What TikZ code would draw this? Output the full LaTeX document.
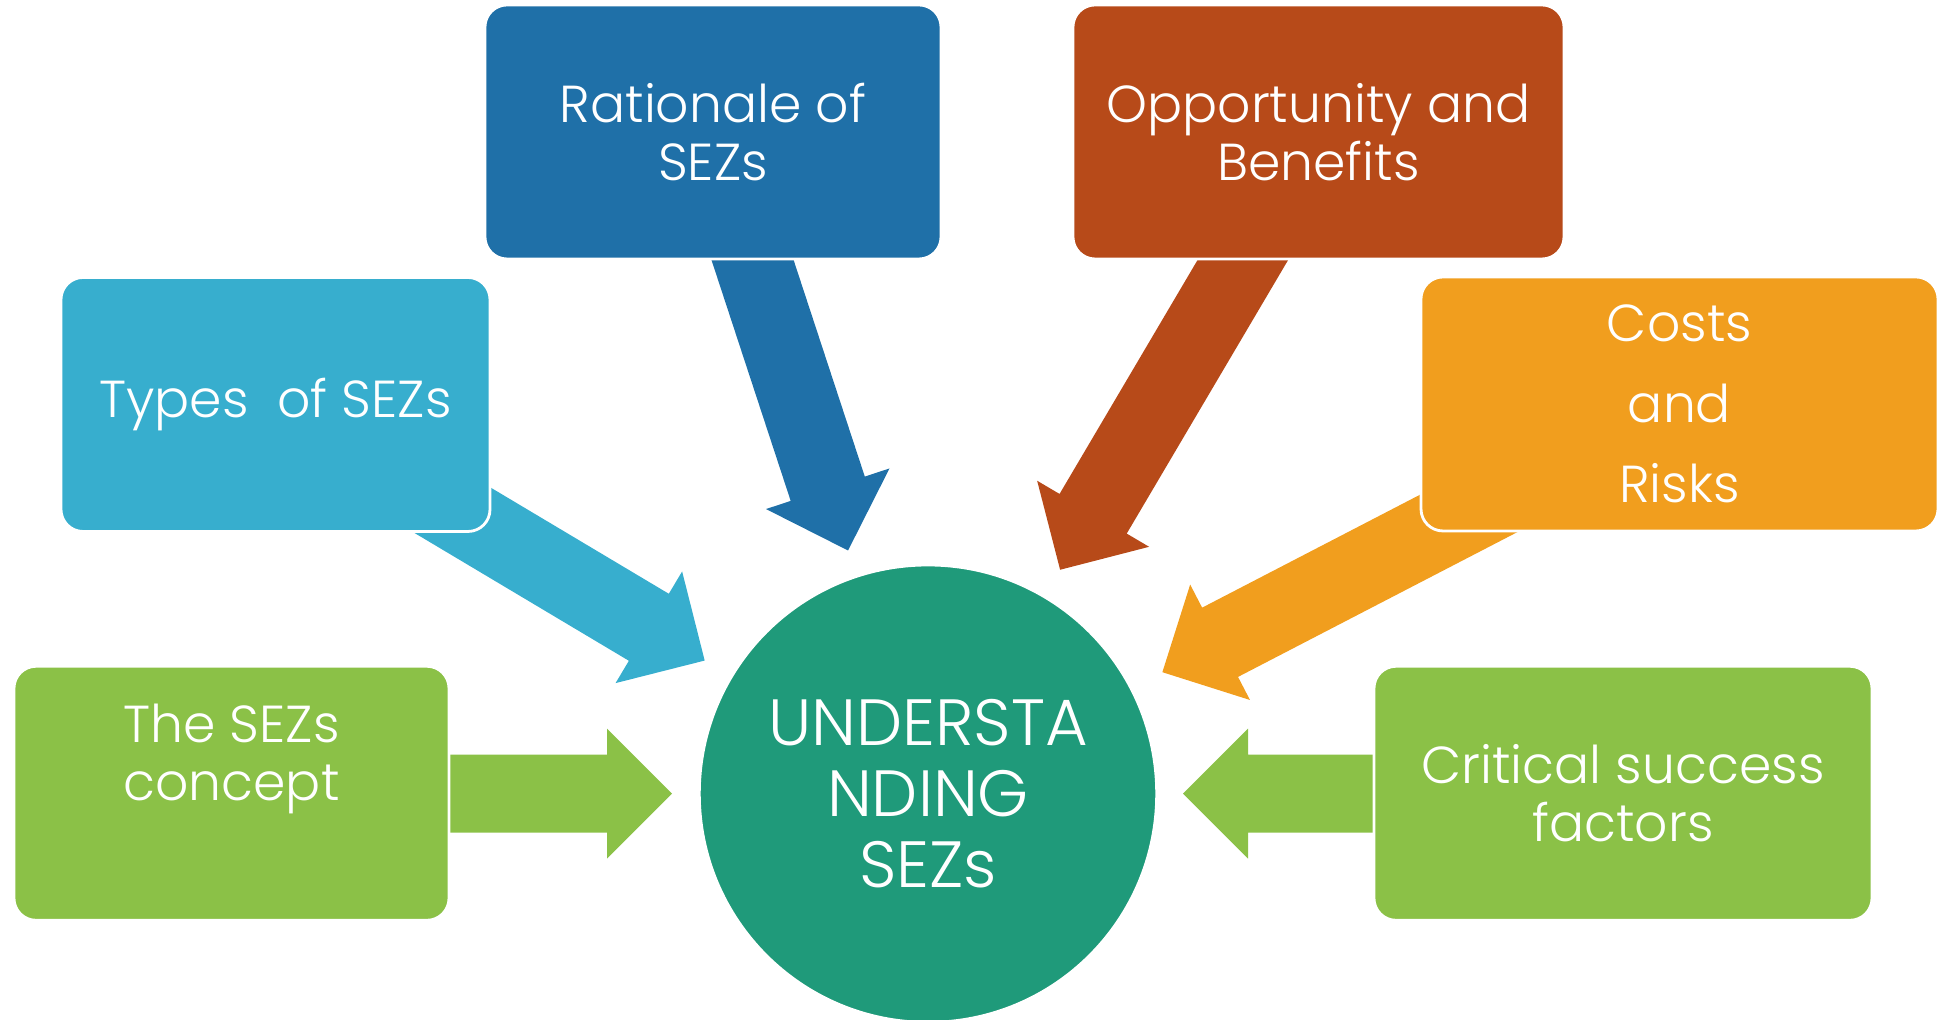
\documentclass[tikz,border=0pt]{standalone}
\usepackage{fontspec}
\setmainfont{Poppins}[UprightFont=* Light]
\usepackage{tikz}
\usetikzlibrary{calc}
\pgfdeclarelayer{bg}
\pgfsetlayers{bg,main}

\definecolor{ratblue}{RGB}{31,112,168}
\definecolor{opprust}{RGB}{183,74,25}
\definecolor{typeblue}{RGB}{55,174,206}
\definecolor{costorange}{RGB}{241,158,30}
\definecolor{keygreen}{RGB}{139,193,71}
\definecolor{hubteal}{RGB}{31,154,122}

% block arrow: tail, tip, colour
\newcommand{\sezarrow}[3]{%
  \coordinate (#2-neck) at ($(#2)!0.65cm!(#1)$);
  \fill[#3] ($(#1)!0.39cm!90:(#2)$) -- ($(#2-neck)!0.39cm!-90:(#1)$)
    -- ($(#2-neck)!0.65cm!-90:(#1)$) -- (#2)
    -- ($(#2-neck)!0.65cm!90:(#1)$) -- ($(#2-neck)!0.39cm!90:(#1)$)
    -- ($(#1)!0.39cm!-90:(#2)$) -- cycle;
}

\begin{document}
\begin{tikzpicture}[scale=1,
    box/.style={rounded corners=0.22cm, draw=white, line width=0.8pt, text=white,
      align=center, inner sep=0pt, minimum height=2.54cm, font=\fontsize{14.8}{16.5}\selectfont}]
    \useasboundingbox (0,0) rectangle (19.39,10.20);

    \node [box, fill=ratblue, minimum width=4.56cm] (rat) at (7.13,8.88) {Rationale of\\SEZs};
    \node [box, fill=opprust, minimum width=4.91cm] (opp) at (13.185,8.88) {Opportunity and\\Benefits};
    \node [box, fill=typeblue, minimum width=4.29cm] (types) at (2.755,6.155) {Types\ \ of SEZs};
    \node [box, fill=costorange, minimum width=5.17cm, font=\fontsize{14.8}{23}\selectfont] (costs) at (16.795,6.16) {Costs\\and\\Risks};
    \node [box, fill=keygreen, minimum width=4.35cm] (concept) at (2.315,2.267) {};
    \node [text=white, align=center, inner sep=0pt, font=\fontsize{14.8}{16.5}\selectfont] (concept-txt) at ($(concept)+(0,0.34)$) {The SEZs\\concept};
    \node [box, fill=keygreen, minimum width=4.98cm] (csf) at (16.23,2.267) {Critical success\\factors};
    \node [circle, fill=hubteal, draw=white, line width=0.8pt, text=white, align=center, inner sep=0pt,
      minimum size=4.574cm, font=\fontsize{18.6}{20.2}\selectfont] (hub) at (9.28,2.263) {UNDERSTA\\NDING\\SEZs};

    \begin{pgfonlayer}{bg}    % arrows behind the boxes
        \coordinate (rat-tail) at ($(hub)+(108.2:7)$);
        \coordinate (rat-tip) at ($(hub)+(108.2:2.56)$);
        \coordinate (opp-tail) at ($(hub)+(59.46:7)$);
        \coordinate (opp-tip) at ($(hub)+(59.46:2.60)$);
        \coordinate (types-tail) at ($(hub)+(149.2:7)$);
        \coordinate (types-tip) at ($(hub)+(149.2:2.60)$);
        \coordinate (costs-tail) at ($(hub)+(27.4:7)$);
        \coordinate (costs-tip) at ($(hub)+(27.4:2.64)$);
        \coordinate (concept-tail) at ($(hub)+(180:7)$);
        \coordinate (concept-tip) at ($(hub)+(180:2.56)$);
        \coordinate (csf-tail) at ($(hub)+(0:7)$);
        \coordinate (csf-tip) at ($(hub)+(0:2.55)$);

        \sezarrow{rat-tail}{rat-tip}{ratblue}
        \sezarrow{opp-tail}{opp-tip}{opprust}
        \sezarrow{types-tail}{types-tip}{typeblue}
        \sezarrow{costs-tail}{costs-tip}{costorange}
        \sezarrow{concept-tail}{concept-tip}{keygreen}
        \sezarrow{csf-tail}{csf-tip}{keygreen}
    \end{pgfonlayer}
\end{tikzpicture}
\end{document}
